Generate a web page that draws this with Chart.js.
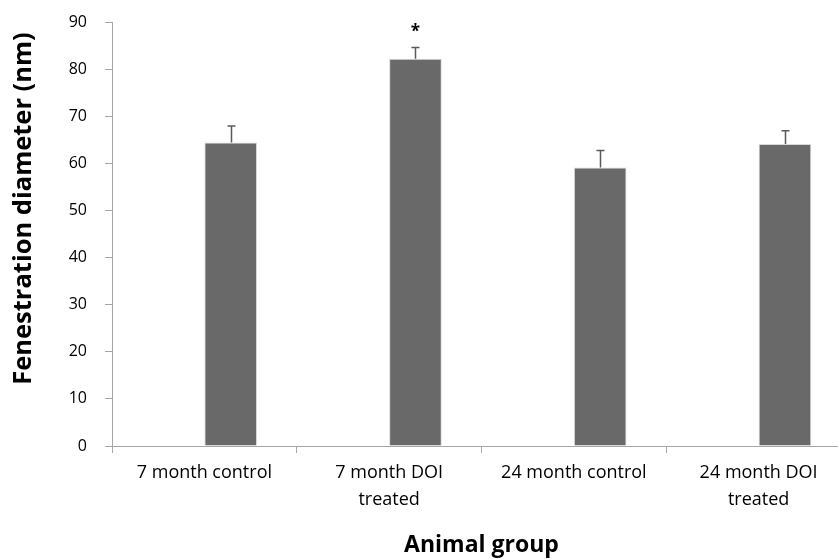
<!DOCTYPE html>
<html>
<head>
<meta charset="utf-8">
<script src="https://cdn.jsdelivr.net/npm/chart.js@4.4.1/dist/chart.umd.min.js"></script>
<style>
  html, body { margin: 0; padding: 0; background: #fff; overflow: hidden; }
  #wrap { width: 860px; height: 559px; }
</style>
</head>
<body>
<div id="wrap"><canvas id="chart" width="860" height="559"></canvas></div>
<script>
// Fenestration diameter by animal group (mean + upward SEM bar)
const categories = [["7 month control"], ["7 month DOI", "treated"], ["24 month control"], ["24 month DOI", "treated"]];
const diameters = [64.4, 82.2, 59.1, 64.1];
const errors = [3.5, 2.4, 3.6, 2.8];
const significance = ["", "*", "", ""];
// Excel layout leaves an empty first series, so the visible bar sits right of centre
const emptySeries = [null, null, null, null];
const yTicks = [0, 10, 20, 30, 40, 50, 60, 70, 80, 90];
const yTitle = "Fenestration diameter (nm)";

const FONT = "'Open Sans', 'Noto Sans', sans-serif";
const AXIS = "#a6a6a6";

// draws the upper error whisker + cap and the significance star
const errorBarPlugin = {
  id: "errorBars",
  afterDatasetsDraw(chart) {
    const { ctx, scales } = chart;
    const meta = chart.getDatasetMeta(1);
    ctx.save();
    ctx.strokeStyle = "#595959";
    ctx.lineWidth = 1.5;
    meta.data.forEach((bar, i) => {
      const yTop = scales.y.getPixelForValue(diameters[i] + errors[i]);
      const yVal = scales.y.getPixelForValue(diameters[i]);
      const x = Math.round(bar.x) + 0.5;
      ctx.beginPath();
      ctx.moveTo(x, yVal);
      ctx.lineTo(x, yTop);
      ctx.moveTo(x - 4, yTop);
      ctx.lineTo(x + 4, yTop);
      ctx.stroke();
      if (significance[i]) {
        ctx.fillStyle = "#000";
        ctx.font = "bold 17px " + FONT;
        ctx.textAlign = "center";
        ctx.textBaseline = "middle";
        ctx.fillText(significance[i], x, yTop - 15);
      }
    });
    ctx.restore();
  },
};

// Excel centres the vertical title a bit above the plot middle, so place it by hand
const yTitlePlugin = {
  id: "yTitle",
  afterDraw(chart) {
    const { ctx, chartArea } = chart;
    ctx.save();
    ctx.translate(24, chartArea.top + (chartArea.bottom - chartArea.top) * 0.44);
    ctx.rotate(-Math.PI / 2);
    ctx.fillStyle = "#000";
    ctx.font = "bold 25.5px " + FONT;
    ctx.textAlign = "center";
    ctx.textBaseline = "middle";
    ctx.fillText(yTitle, 0, 0);
    ctx.restore();
  },
};

new Chart(document.getElementById("chart"), {
  type: "bar",
  data: {
    labels: categories,
    datasets: [
      { label: "spacer", data: emptySeries, backgroundColor: "#696969" },
      {
        label: "Fenestration diameter",
        data: diameters,
        backgroundColor: "#696969",
        borderColor: "#d9d9d9",
        borderWidth: 1,
      },
    ],
  },
  options: {
    responsive: false,
    animation: false,
    categoryPercentage: 0.57,
    barPercentage: 1,
    layout: { padding: { top: 22, right: 9, left: 0, bottom: 0 } },
    scales: {
      x: {
        grid: { drawOnChartArea: false, color: AXIS, tickLength: 7, offset: true },
        border: { color: AXIS, width: 1 },
        ticks: { color: "#000", font: { family: FONT, size: 18, lineHeight: 1.5 }, padding: 6, maxRotation: 0, autoSkip: false },
        title: { display: true, text: "Animal group", color: "#000", font: { family: FONT, size: 23, weight: "bold" }, padding: { top: 14, bottom: 0 } },
        afterFit: (s) => { s.height = 113; },
      },
      y: {
        min: 0,
        max: 90,
        afterBuildTicks: (s) => { s.ticks = yTicks.map((v) => ({ value: v })); },
        grid: { drawOnChartArea: false, color: AXIS, tickLength: 7 },
        border: { color: AXIS, width: 1 },
        ticks: { color: "#000", font: { family: FONT, size: 16 }, padding: 18 },
        afterFit: (s) => { s.width = 112; s.paddingTop = 10; s.paddingBottom = 10; },
      },
    },
    plugins: { legend: { display: false }, tooltip: { enabled: false } },
  },
  plugins: [errorBarPlugin, yTitlePlugin],
});
</script>
</body>
</html>
